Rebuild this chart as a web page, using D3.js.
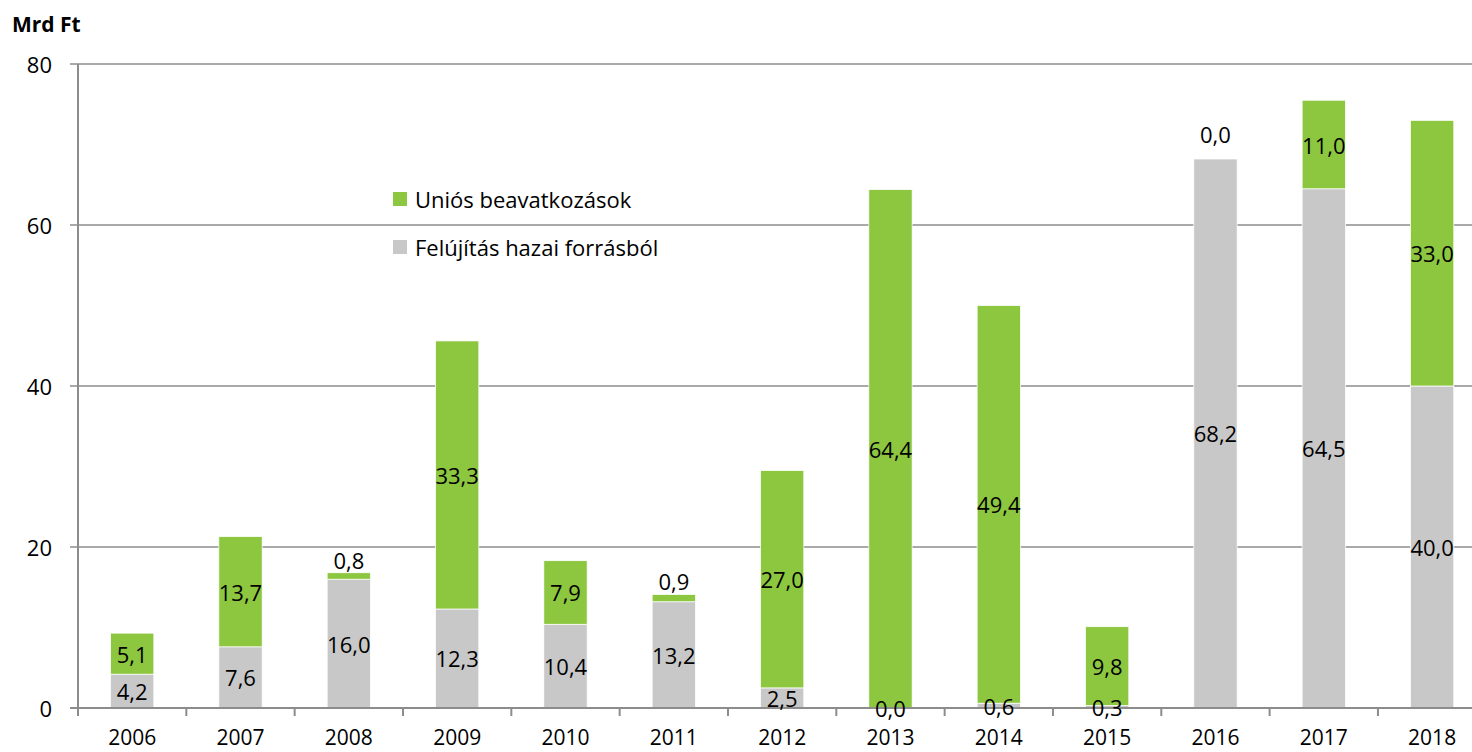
<!DOCTYPE html>
<html>
<head>
<meta charset="utf-8">
<script src="https://cdn.jsdelivr.net/npm/d3@7"></script>
<style>
  body { margin: 0; background: #fff; }
  svg { font-family: "Open Sans", sans-serif; }
</style>
</head>
<body>
<svg width="1472" height="752"></svg>
<script>
// data
const years = ['2006','2007','2008','2009','2010','2011','2012','2013','2014','2015','2016','2017','2018'];
const hazai = [4.2, 7.6, 16.0, 12.3, 10.4, 13.2, 2.5, 0.0, 0.6, 0.3, 68.2, 64.5, 40.0];
const unios = [5.1, 13.7, 0.8, 33.3, 7.9, 0.9, 27.0, 64.4, 49.4, 9.8, 0.0, 11.0, 33.0];
const yTicks = [0, 20, 40, 60, 80];
const seriesNames = ['Uniós beavatkozások', 'Felújítás hazai forrásból'];
const colors = ['#8dc63f', '#c8c8c8'];

const svg = d3.select('svg');
const plotLeft = 78, plotBottom = 708, plotTop = 64;
const step = 108.33;

const x = d3.scaleBand()
    .domain(years)
    .range([plotLeft, plotLeft + step * years.length])
    .paddingInner(0.6)
    .paddingOuter(0.3);

const y = d3.scaleLinear()
    .domain([0, 80])
    .range([plotBottom, plotTop]);

const fmt = v => v.toFixed(1).replace('.', ',');

// gridlines
svg.selectAll('line.grid')
    .data(yTicks.filter(d => d > 0))
    .enter().append('line')
    .attr('x1', plotLeft - 8).attr('x2', 1472)
    .attr('y1', d => y(d)).attr('y2', d => y(d))
    .attr('stroke', '#8c8c8c').attr('stroke-width', 1.5);

// y labels
svg.selectAll('text.ylab')
    .data(yTicks)
    .enter().append('text')
    .attr('x', 52).attr('y', d => y(d))
    .attr('text-anchor', 'end').attr('dominant-baseline', 'central')
    .attr('font-size', 22).attr('fill', '#000')
    .text(d => d);

// bars
const rows = years.map((yr, i) => ({ yr, h: hazai[i], u: unios[i] }));

svg.selectAll('rect.hazai')
    .data(rows)
    .enter().append('rect')
    .attr('x', d => x(d.yr)).attr('width', x.bandwidth())
    .attr('y', d => y(d.h)).attr('height', d => y(0) - y(d.h))
    .attr('fill', colors[1]).attr('stroke', '#fff').attr('stroke-width', 0.75);

svg.selectAll('rect.unios')
    .data(rows)
    .enter().append('rect')
    .attr('x', d => x(d.yr)).attr('width', x.bandwidth())
    .attr('y', d => y(d.h + d.u)).attr('height', d => y(d.h) - y(d.h + d.u))
    .attr('fill', colors[0]).attr('stroke', '#fff').attr('stroke-width', 0.75);

// axis lines
svg.append('line')
    .attr('x1', plotLeft).attr('x2', plotLeft).attr('y1', plotTop).attr('y2', plotBottom)
    .attr('stroke', '#8c8c8c').attr('stroke-width', 2);
svg.append('line')
    .attr('x1', plotLeft - 8).attr('x2', 1472).attr('y1', plotBottom).attr('y2', plotBottom)
    .attr('stroke', '#8c8c8c').attr('stroke-width', 2);

// x ticks between categories
svg.selectAll('line.xtick')
    .data(d3.range(years.length + 1))
    .enter().append('line')
    .attr('x1', i => plotLeft + i * step).attr('x2', i => plotLeft + i * step)
    .attr('y1', plotBottom).attr('y2', plotBottom + 8)
    .attr('stroke', '#8c8c8c').attr('stroke-width', 2);

svg.selectAll('text.xlab')
    .data(years)
    .enter().append('text')
    .attr('x', d => x(d) + x.bandwidth() / 2).attr('y', 745)
    .attr('text-anchor', 'middle')
    .attr('font-size', 21).attr('fill', '#000')
    .text(d => d);

// value labels
svg.selectAll('text.lh')
    .data(rows)
    .enter().append('text')
    .attr('x', d => x(d.yr) + x.bandwidth() / 2)
    .attr('y', d => y(d.h / 2))
    .attr('text-anchor', 'middle').attr('dominant-baseline', 'central')
    .attr('font-size', 22).attr('fill', '#000')
    .text(d => fmt(d.h));

svg.selectAll('text.lu')
    .data(rows)
    .enter().append('text')
    .attr('x', d => x(d.yr) + x.bandwidth() / 2)
    .attr('y', d => d.u < 1
        ? y(d.h + d.u) - 13 - (d.u === 0 ? 12 : 0)
        : y(d.h + d.u / 2))
    .attr('text-anchor', 'middle').attr('dominant-baseline', 'central')
    .attr('font-size', 22).attr('fill', '#000')
    .text(d => fmt(d.u));

// legend
const legend = svg.selectAll('g.legend')
    .data(seriesNames)
    .enter().append('g')
    .attr('transform', (d, i) => `translate(393, ${199 + i * 48})`);
legend.append('rect')
    .attr('x', 0).attr('y', -7).attr('width', 14).attr('height', 14)
    .attr('fill', (d, i) => colors[i]);
legend.append('text')
    .attr('x', 22).attr('y', 0)
    .attr('dominant-baseline', 'central')
    .attr('font-size', 22).attr('fill', '#000')
    .text(d => d);

// unit title
svg.append('text')
    .attr('x', 12).attr('y', 24)
    .attr('dominant-baseline', 'central')
    .attr('font-size', 21).attr('font-weight', 'bold').attr('fill', '#000')
    .text('Mrd Ft');
</script>
</body>
</html>
